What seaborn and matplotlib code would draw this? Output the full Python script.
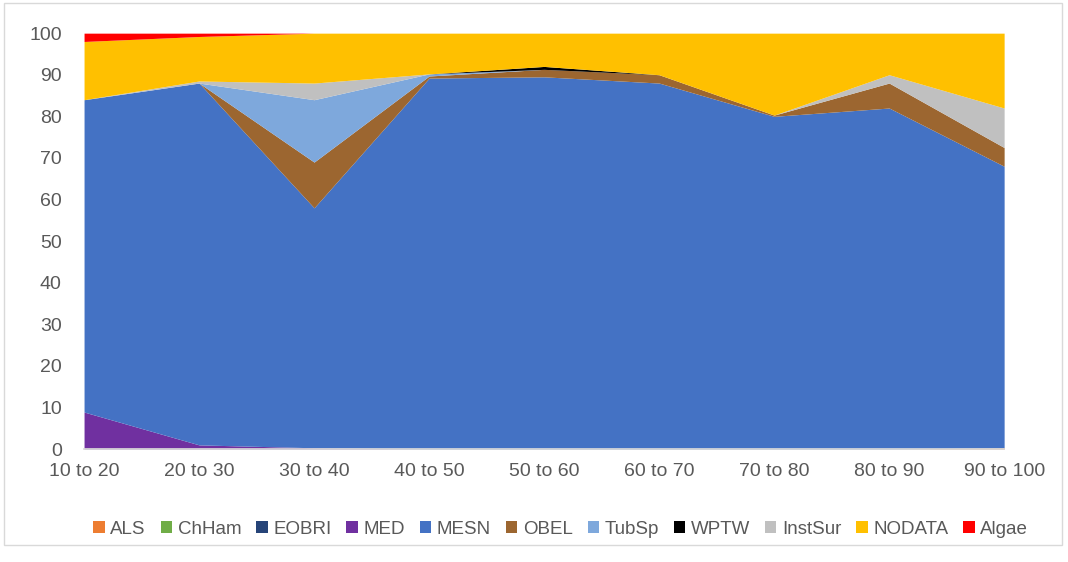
import numpy as np
import matplotlib
matplotlib.use("Agg")
import matplotlib.pyplot as plt
import seaborn as sns

categories = ["10 to 20", "20 to 30", "30 to 40", "40 to 50", "50 to 60",
              "60 to 70", "70 to 80", "80 to 90", "90 to 100"]

als = [0, 0, 0, 0, 0, 0, 0, 0, 0.3]
chham = [0, 0, 0, 0, 0, 0, 0, 0, 0]
eobri = [0, 0, 0, 0, 0, 0, 0, 0, 0]
med = [8.9, 1.0, 0.3, 0, 0, 0, 0, 0, 0]
mesn = [75.1, 87.0, 57.7, 89.2, 89.5, 88.0, 80.0, 82.0, 67.7]
obel = [0, 0, 11.0, 0.5, 1.8, 2.0, 0.3, 6.0, 4.5]
tubsp = [0, 0, 15.0, 0.5, 0, 0, 0, 0, 0]
wptw = [0, 0, 0, 0, 0.7, 0, 0, 0, 0]
instsur = [0, 0.5, 4.0, 0, 0, 0, 0, 2.0, 9.5]
nodata = [14.0, 10.7, 12.0, 9.8, 8.0, 10.0, 19.7, 10.0, 18.0]
algae = [2.0, 0.8, 0, 0, 0, 0, 0, 0, 0]

series_names = ["ALS", "ChHam", "EOBRI", "MED", "MESN", "OBEL", "TubSp",
                "WPTW", "InstSur", "NODATA", "Algae"]
series = [als, chham, eobri, med, mesn, obel, tubsp, wptw, instsur, nodata, algae]
colors = ["#ED7D31", "#70AD47", "#264478", "#7030A0", "#4472C4", "#9C6630",
          "#7EA8DC", "#000000", "#C0C0C0", "#FFC000", "#FF0000"]

sns.set_theme(style="white")
plt.rcParams["font.family"] = ["Liberation Sans", "DejaVu Sans"]

fig = plt.figure(figsize=(10.68, 5.62), dpi=100)
ax = fig.add_axes([0.0787, 0.201, 0.8615, 0.740])

x = np.arange(len(categories))
ax.stackplot(x, *series, colors=colors, labels=series_names, linewidth=0)

ax.set_xlim(0, len(categories) - 1)
ax.set_ylim(0, 100)
ax.set_yticks(range(0, 101, 10))
ax.set_xticks(x)
ax.set_xticklabels(categories)
ax.tick_params(axis="both", labelsize=14, colors="#595959", length=0)
ax.tick_params(axis="y", pad=16)
ax.tick_params(axis="x", pad=10)
for s in ["top", "right", "left"]:
    ax.spines[s].set_visible(False)
ax.spines["bottom"].set_color("#D9D9D9")

handles, labels = ax.get_legend_handles_labels()
fig.legend(handles, labels, loc="center", bbox_to_anchor=(0.525, 0.058), ncol=11,
           frameon=False, fontsize=13.5, handlelength=0.6, handleheight=0.6,
           handletextpad=0.3, columnspacing=0.8, labelcolor="#595959")

border = plt.Rectangle((0.004, 0.03), 0.99, 0.965, transform=fig.transFigure,
                       fill=False, edgecolor="#D9D9D9", linewidth=1)
fig.patches.append(border)

fig.savefig("out.png", dpi=100)
